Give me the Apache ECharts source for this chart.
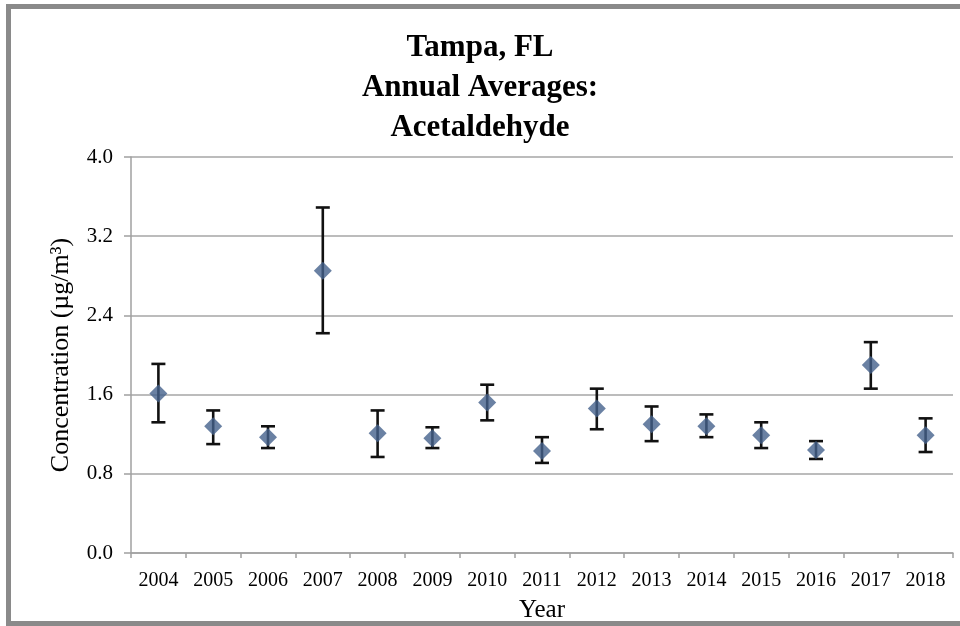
<!DOCTYPE html>
<html>
<head>
<meta charset="utf-8">
<script src="https://cdn.jsdelivr.net/npm/echarts@6/dist/echarts.min.js"></script>
<style>
html,body{margin:0;padding:0;background:#fff;}
#chart{position:absolute;left:0;top:0;width:960px;height:626px;}
.frame{position:absolute;background:#8a8a8a;pointer-events:none;}
</style>
</head>
<body>
<div id="chart"></div>
<div class="frame" style="left:6px;top:4px;width:954px;height:5px;"></div>
<div class="frame" style="left:6px;top:4px;width:5px;height:622px;"></div>
<div class="frame" style="left:6px;top:621px;width:954px;height:5px;"></div>
<script>
const years = ['2004','2005','2006','2007','2008','2009','2010','2011','2012','2013','2014','2015','2016','2017','2018'];
const means = [1.61, 1.28, 1.17, 2.85, 1.21, 1.16, 1.52, 1.03, 1.46, 1.30, 1.28, 1.19, 1.04, 1.90, 1.19];
const upper = [1.91, 1.44, 1.28, 3.49, 1.44, 1.27, 1.70, 1.17, 1.66, 1.48, 1.40, 1.32, 1.13, 2.13, 1.36];
const lower = [1.32, 1.10, 1.06, 2.22, 0.97, 1.06, 1.34, 0.91, 1.25, 1.13, 1.17, 1.06, 0.95, 1.66, 1.02];
const yTicks = [0, 0.8, 1.6, 2.4, 3.2, 4.0];

const errData = years.map((y, i) => [i, lower[i], upper[i]]);
const serif = 'Liberation Serif';

const chart = echarts.init(document.getElementById('chart'), null, {renderer: 'canvas'});
chart.setOption({
  animation: false,
  backgroundColor: '#ffffff',
  title: {
    text: 'Tampa, FL\nAnnual Averages:\nAcetaldehyde',
    left: 'center',
    top: 23,
    padding: [5, 0, 5, 20],
    textStyle: {fontFamily: serif, fontWeight: 'bold', fontSize: 31, lineHeight: 40, color: '#000'}
  },
  grid: {left: 131, right: 7, top: 157, bottom: 73, containLabel: false, outerBoundsMode: 'none'},
  xAxis: {
    type: 'category',
    data: years,
    boundaryGap: true,
    name: 'Year',
    nameLocation: 'middle',
    nameGap: 45,
    nameTextStyle: {fontFamily: serif, fontSize: 25, color: '#000'},
    axisLine: {lineStyle: {color: '#a0a0a0', width: 1.5}},
    axisTick: {show: true, interval: 0, length: 5, lineStyle: {color: '#a0a0a0', width: 1.5}},
    axisLabel: {fontFamily: serif, fontSize: 20, color: '#000', margin: 18, interval: 0},
    splitLine: {show: false}
  },
  yAxis: {
    type: 'value',
    min: yTicks[0],
    max: yTicks[yTicks.length - 1],
    interval: 0.8,
    name: 'Concentration (µg/m³)',
    nameLocation: 'middle',
    nameGap: 57,
    nameRotate: 90,
    nameTextStyle: {fontFamily: serif, fontSize: 26, color: '#000'},
    axisLine: {show: true, lineStyle: {color: '#a0a0a0', width: 1.5}},
    axisTick: {show: true, length: 7, lineStyle: {color: '#a0a0a0', width: 1.5}},
    axisLabel: {fontFamily: serif, fontSize: 21, color: '#000', margin: 18, formatter: v => v.toFixed(1)},
    splitLine: {show: true, lineStyle: {color: '#a6a6a6', width: 1.5}}
  },
  series: [
    {
      type: 'custom',
      z: 2,
      data: errData,
      renderItem: function (params, api) {
        const x = api.value(0);
        const lo = api.coord([x, api.value(1)]);
        const hi = api.coord([x, api.value(2)]);
        const hw = 7;
        const st = {stroke: '#111', lineWidth: 2.6};
        return {
          type: 'group',
          children: [
            {type: 'line', shape: {x1: lo[0], y1: lo[1], x2: hi[0], y2: hi[1]}, style: st},
            {type: 'line', shape: {x1: lo[0] - hw, y1: lo[1], x2: lo[0] + hw, y2: lo[1]}, style: st},
            {type: 'line', shape: {x1: hi[0] - hw, y1: hi[1], x2: hi[0] + hw, y2: hi[1]}, style: st}
          ]
        };
      }
    },
    {
      type: 'scatter',
      z: 5,
      data: means,
      symbol: 'diamond',
      symbolSize: 18,
      itemStyle: {color: '#45628c'}
    }
  ]
});
</script>
</body>
</html>
